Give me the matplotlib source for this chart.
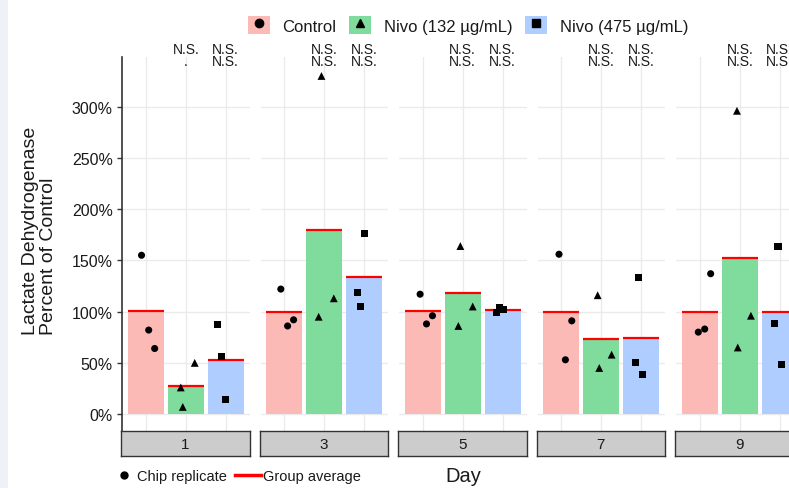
import matplotlib
matplotlib.use('Agg')
import matplotlib.pyplot as plt
import numpy as np
from matplotlib.lines import Line2D
from matplotlib.patches import Patch, Rectangle
from matplotlib.legend_handler import HandlerTuple
from matplotlib.transforms import blended_transform_factory

plt.rcParams['font.family'] = ['Liberation Sans', 'DejaVu Sans']

days = ['1', '3', '5', '7', '9']
groups = ['Control', 'Nivo (132 µg/mL)', 'Nivo (475 µg/mL)']

# chip replicates, percent of control (one list of 3 chips per day)
control = [[155, 82, 64], [122, 86, 92], [117, 88, 96], [156, 53, 91], [137, 80, 83]]
nivo_132 = [[26, 7, 50], [330, 95, 113], [164, 86, 105], [116, 45, 58], [296, 65, 96]]
nivo_475 = [[87, 56, 14], [176, 119, 105], [99, 104, 102], [133, 50, 39], [88, 164, 48]]

# horizontal jitter of the replicate points (category units)
jitter_control = [[-0.11, 0.07, 0.22], [-0.09, 0.08, 0.23], [-0.07, 0.09, 0.24],
                  [-0.06, 0.10, 0.26], [0.27, -0.04, 0.12]]
jitter_132 = [[-0.125, -0.075, 0.225], [-0.07, -0.14, 0.24], [-0.06, -0.11, 0.25],
              [-0.09, -0.05, 0.26], [-0.07, -0.05, 0.28]]
jitter_475 = [[-0.2, -0.1, -0.01], [0.0, -0.17, -0.09], [-0.15, -0.07, 0.03],
              [-0.06, -0.14, 0.04], [-0.12, -0.04, 0.05]]

# significance labels vs control (two tests stacked per group)
ns_132_upper = ['N.S.', 'N.S.', 'N.S.', 'N.S.', 'N.S.']
ns_132_lower = ['.', 'N.S.', 'N.S.', 'N.S.', 'N.S.']
ns_475_upper = ['N.S.', 'N.S.', 'N.S.', 'N.S.', 'N.S.']
ns_475_lower = ['N.S.', 'N.S.', 'N.S.', 'N.S.', 'N.S.']

y_ticks = [0, 50, 100, 150, 200, 250, 300]

colors = ['#FBBAB6', '#80DC9C', '#B0CDFF']
markers = ['o', '^', 's']
sizes = [26, 32, 26]
text_color = '#1A1A1A'

W, H = 789, 489
fig = plt.figure(figsize=(W / 100, H / 100), dpi=100)
fig.patch.set_facecolor('white')
fig.add_artist(Rectangle((0, 0), 8 / W, 1, transform=fig.transFigure,
                         facecolor='#EEF2F6', edgecolor='none', zorder=0))


def box(x0, y0, x1, y1):
    return [x0 / W, 1 - y1 / H, (x1 - x0) / W, (y1 - y0) / H]


panel_left, panel_step, panel_w = 122, 138.5, 127.5
panel_top, panel_bottom, strip_bottom = 58, 432, 457

for i, day in enumerate(days):
    x0 = panel_left + panel_step * i
    ax = fig.add_axes(box(x0, panel_top, x0 + panel_w, panel_bottom))
    ax.set_xlim(0.4, 3.6)
    ax.set_ylim(-16.5, 348.5)
    ax.set_axisbelow(True)
    ax.grid(True, color='#EBEBEB', lw=1)
    ax.set_xticks([1, 2, 3])
    ax.set_yticks(y_ticks)
    ax.tick_params(axis='x', length=0, labelbottom=False)
    for s in ['top', 'right', 'bottom']:
        ax.spines[s].set_visible(False)
    if i == 0:
        ax.spines['left'].set_color('#333333')
        ax.spines['left'].set_linewidth(1.2)
        ax.set_yticklabels([f'{t}%' for t in y_ticks])
        ax.tick_params(axis='y', length=3.6, width=1, color='#333333', pad=3,
                       labelsize=11.5, labelcolor=text_color)
    else:
        ax.spines['left'].set_visible(False)
        ax.tick_params(axis='y', length=0, labelleft=False)

    data = [control[i], nivo_132[i], nivo_475[i]]
    jit = [jitter_control[i], jitter_132[i], jitter_475[i]]
    means = [np.mean(d) for d in data]
    xs = np.arange(1, 4)
    ax.bar(xs, means, width=0.9, color=colors, zorder=1)
    ax.hlines(means, xs - 0.45, xs + 0.45, color='red', lw=1.6, zorder=2)
    for k in range(3):
        ax.scatter(xs[k] + np.array(jit[k]), data[k], marker=markers[k], s=sizes[k],
                   color='black', edgecolors='none', zorder=3, clip_on=False)

    tr = blended_transform_factory(ax.transData, ax.transAxes)
    for xk, up, lo in [(2, ns_132_upper[i], ns_132_lower[i]), (3, ns_475_upper[i], ns_475_lower[i])]:
        ax.text(xk, 1.040, up + '\n' + lo, transform=tr, ha='center', va='top',
                multialignment='center', fontsize=10, linespacing=0.86,
                color=text_color, clip_on=False)

    sax = fig.add_axes(box(x0 - 1, panel_bottom, x0 + panel_w, strip_bottom))
    sax.set_facecolor('#CCCCCC')
    sax.set_xticks([])
    sax.set_yticks([])
    for s in sax.spines.values():
        s.set_color('#333333')
        s.set_linewidth(1)
    sax.text(0.5, 0.48, day, transform=sax.transAxes, ha='center', va='center',
             fontsize=11, color=text_color)

fig.text(39.5 / W, 1 - 231 / H, 'Lactate Dehydrogenase\nPercent of Control', rotation=90,
         ha='center', va='center', multialignment='left', fontsize=14,
         color=text_color, linespacing=1.12)
fig.text(463 / W, 1 - 477 / H, 'Day', ha='center', va='center', fontsize=14.5, color=text_color)

handles = [(Patch(facecolor=c, edgecolor='none'),
            Line2D([], [], marker=m, ls='', color='black', markersize=6))
           for c, m in zip(colors, markers)]
fig.legend(handles, groups, loc='center', bbox_to_anchor=(468 / W, 1 - 26 / H), ncol=3,
           frameon=False, fontsize=12, handlelength=1.3, handleheight=1.25,
           handletextpad=0.75, columnspacing=0.8, borderpad=0, borderaxespad=0,
           handler_map={tuple: HandlerTuple(ndivide=1)}, labelcolor=text_color)

fig.legend([Line2D([], [], marker='o', ls='', color='black', markersize=5)], ['Chip replicate'],
           loc='center left', bbox_to_anchor=(118 / W, 1 - 477 / H), frameon=False,
           fontsize=10.5, handlelength=0.8, handletextpad=0.5, borderpad=0, borderaxespad=0,
           labelcolor=text_color)
fig.legend([Line2D([], [], color='red', lw=2.5)], ['Group average'],
           loc='center left', bbox_to_anchor=(235 / W, 1 - 477 / H), frameon=False,
           fontsize=10.5, handlelength=1.75, handletextpad=0.2, borderpad=0, borderaxespad=0,
           labelcolor=text_color)

fig.savefig('out.png', dpi=100)
